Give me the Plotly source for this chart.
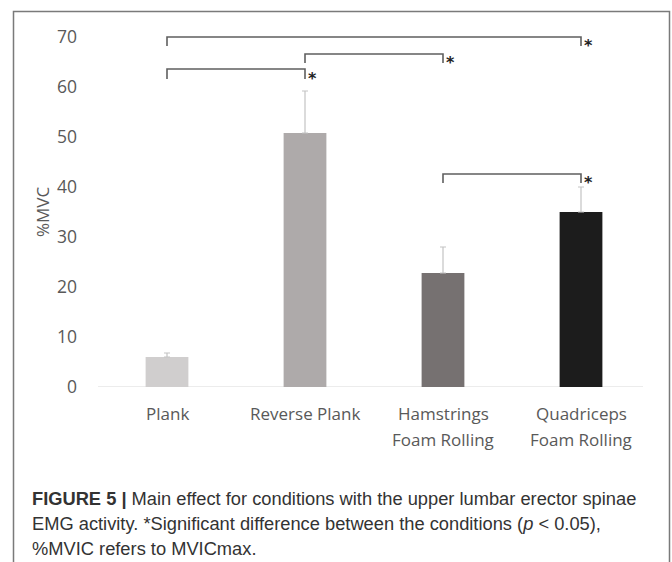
import plotly.graph_objects as go

categories = ["Plank", "Reverse Plank", "Hamstrings<br>Foam Rolling", "Quadriceps<br>Foam Rolling"]
means = [6.0, 50.8, 22.8, 35.0]
sd_upper = [0.8, 8.4, 5.2, 5.0]
bar_colors = ["#d0cece", "#aeaaaa", "#767171", "#1c1c1c"]
y_ticks = [0, 10, 20, 30, 40, 50, 60, 70]

# significance brackets: from index, to index, top level, end level
bracket_from = [0, 1, 0, 2]
bracket_to = [1, 2, 3, 3]
bracket_top = [63.6, 66.6, 70.0, 42.6]
bracket_end = [61.6, 64.8, 68.2, 40.8]

W, H = 672, 562
L, R, T, B = 98, 22, 27, 175
PW, PH = W - L - R, H - T - B

def px(x):
    return (x - L) / PW

def py(y):
    return (H - B - y) / PH

fig = go.Figure()
fig.add_trace(go.Bar(
    x=list(range(4)), y=means,
    marker=dict(color=bar_colors, line=dict(width=0)),
    width=0.31,
    error_y=dict(type="data", symmetric=False, array=sd_upper,
                 arrayminus=[0] * 4, color="#c4c4c4", thickness=1.2, width=3),
    showlegend=False, hoverinfo="skip",
))

shapes = []
annotations = []
# x axis baseline
shapes.append(dict(type="line", xref="paper", yref="y", x0=0, x1=px(643), y0=0, y1=0,
                   line=dict(color="#d9d9d9", width=1), layer="below"))

for a, b, top, end in zip(bracket_from, bracket_to, bracket_top, bracket_end):
    shapes.append(dict(
        type="path", xref="x", yref="y",
        path=f"M {a} {end} L {a} {top} L {b} {top} L {b} {end}",
        line=dict(color="#5f5f5f", width=1.6),
    ))
    annotations.append(dict(
        x=b, y=(top + end) / 2, xref="x", yref="y", text="<b>*</b>",
        showarrow=False, xanchor="left", yanchor="middle", xshift=1, yshift=-4,
        font=dict(family="DejaVu Sans", size=16, color="#222222"),
    ))

# category labels
label_font = dict(family="Open Sans", size=17, color="#595959")
for i, cat in enumerate(categories):
    for j, part in enumerate(cat.split("<br>")):
        annotations.append(dict(
            x=i, y=py(413 + 26 * j), xref="x", yref="paper", text=part,
            showarrow=False, xanchor="center", yanchor="middle", font=label_font,
        ))

# frame
shapes.append(dict(
    type="path", xref="paper", yref="paper",
    path=f"M {px(13.5)} {py(575)} L {px(13.5)} {py(11.5)} L {px(669.5)} {py(11.5)} L {px(669.5)} {py(575)}",
    line=dict(color="#7a7a7a", width=1.5),
))

cap_font = dict(family="Liberation Sans", size=18.3, color="#333333")
caption_lines = [
    "<b>FIGURE 5 |</b> Main effect for conditions with the upper lumbar erector spinae",
    "EMG activity. *Significant difference between the conditions (<i>p</i> < 0.05),",
    "%MVIC refers to MVICmax.",
]
for i, line in enumerate(caption_lines):
    annotations.append(dict(
        x=px(30), y=py(498 + 25 * i), xref="paper", yref="paper", text=line,
        showarrow=False, xanchor="left", yanchor="middle", font=cap_font,
    ))

annotations.append(dict(
    x=px(43), y=py(212), xref="paper", yref="paper", text="%MVC",
    textangle=-90, showarrow=False, xanchor="center", yanchor="middle",
    font=dict(family="Open Sans", size=17, color="#595959"),
))

fig.update_layout(
    width=W, height=H,
    margin=dict(l=L, r=R, t=T, b=B),
    paper_bgcolor="white", plot_bgcolor="white",
    shapes=shapes, annotations=annotations,
    xaxis=dict(
        tickvals=list(range(4)), showticklabels=False,
        range=[-0.5, 3.5], showline=False,
        showgrid=False, zeroline=False, ticks="",
    ),
    yaxis=dict(
        range=[0, 72], tickvals=y_ticks, showgrid=False, zeroline=False,
        showline=False, ticks="", ticklabelstandoff=20,
        tickfont=dict(family="Open Sans", size=17.5, color="#595959"),
    ),
)

fig.write_html("out.html")
